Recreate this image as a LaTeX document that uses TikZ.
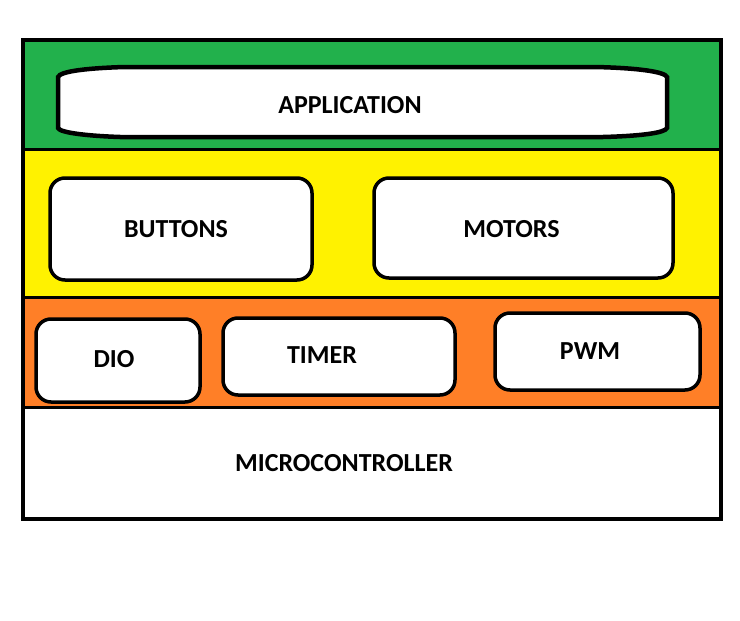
\documentclass[tikz,border=0pt]{standalone}
\usepackage{fontspec}
\setmainfont{Carlito}
\definecolor{appgreen}{HTML}{22B14C}
\definecolor{halyellow}{HTML}{FFF200}
\definecolor{mcalorange}{HTML}{FF7F27}

\tikzset{layer frame/.style={draw=black, line width=4.5pt},
    layer line/.style={draw=black, line width=3pt},
    module box/.style={draw=black, fill=white, line width=3.5pt, rounded corners=15pt, inner sep=0pt},
    module label/.style={font=\bfseries\fontsize{26}{30}\selectfont, inner sep=0pt},
}

\begin{document}
\begin{tikzpicture}[x=1pt, y=-1pt]
	\useasboundingbox (0, 0) rectangle (740, 621);

	% layer bands
	\fill[appgreen] (23, 40) rectangle (721, 149);
	\fill[halyellow] (23, 149) rectangle (721, 297);
	\fill[mcalorange] (23, 297) rectangle (721, 407);
	\fill[white] (23, 407) rectangle (721, 519);
	\draw[layer line] (23, 149) -- (721, 149);
	\draw[layer line] (23, 297) -- (721, 297);
	\draw[layer line] (23, 407) -- (721, 407);
	\draw[layer frame] (23, 40) rectangle (721, 519);

	% application layer
	\draw[fill=white, line width=4.5pt] (58, 77) -- (58, 128)
		.. controls (60, 133) and (90, 136) .. (120, 137) -- (603, 137)
		.. controls (640, 136) and (665, 133) .. (667, 128) -- (667, 77)
		.. controls (665, 72) and (640, 68) .. (595, 67) -- (125, 67)
		.. controls (90, 68) and (60, 71) .. cycle;
	\node[module label] (application) at (350, 105) {APPLICATION};

	% hal layer
	\node[module box, minimum width=262pt, minimum height=102pt] (buttons) at (181, 229) {};
	\node[module box, minimum width=299pt, minimum height=100pt] (motors) at (523.5, 228) {};
	\node[module label] (buttons label) at ([xshift=-5pt]buttons.center) {BUTTONS};
	\node[module label] (motors label) at ([xshift=-12pt, yshift=-1pt]motors.center) {MOTORS};

	% mcal layer
	\node[module box, minimum width=164pt, minimum height=83pt] (dio) at (118, 360.5) {};
	\node[module box, minimum width=232pt, minimum height=77pt] (timer) at (339, 356.5) {};
	\node[module box, minimum width=205pt, minimum height=77pt] (pwm) at (597.5, 351.5) {};
	\node[module label] (dio label) at ([xshift=-4pt, yshift=1.5pt]dio.center) {DIO};
	\node[module label] (timer label) at ([xshift=-17pt, yshift=1.5pt]timer.center) {TIMER};
	\node[module label] (pwm label) at ([xshift=-7.5pt]pwm.center) {PWM};

	% microcontroller
	\node[module label] (microcontroller) at (344, 463) {MICROCONTROLLER};
\end{tikzpicture}
\end{document}
